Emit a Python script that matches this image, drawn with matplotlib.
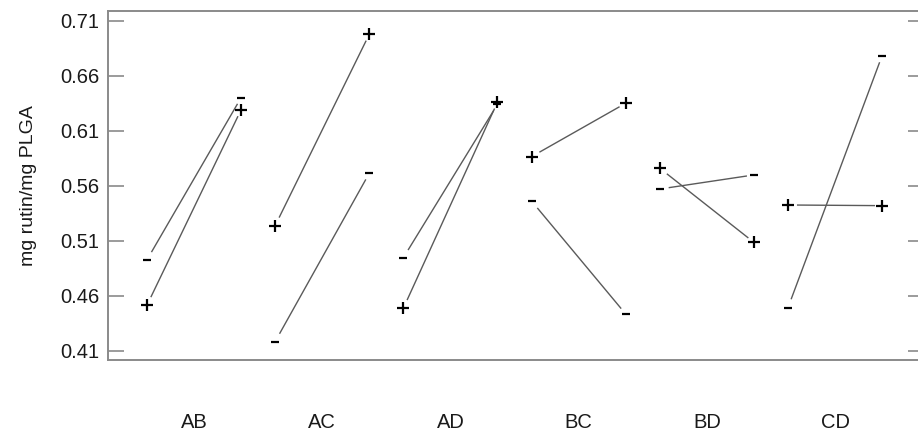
import matplotlib
matplotlib.use("Agg")
import matplotlib.pyplot as plt
import numpy as np

groups = ["AB", "AC", "AD", "BC", "BD", "CD"]
plus_low = [0.4515, 0.5238, 0.4488, 0.5865, 0.5760, 0.5426]
plus_high = [0.6290, 0.6976, 0.6360, 0.6350, 0.5087, 0.5420]
minus_low = [0.4927, 0.4185, 0.4947, 0.5462, 0.5571, 0.4493]
minus_high = [0.6400, 0.5714, 0.6340, 0.4436, 0.5699, 0.6782]
yticks = [0.41, 0.46, 0.51, 0.56, 0.61, 0.66, 0.71]
ylabel = "mg rutin/mg PLGA"

plt.rcParams['font.family'] = ['Liberation Sans', 'DejaVu Sans']

W, H = 918, 430
fig = plt.figure(figsize=(W / 100, H / 100), dpi=100)
left, right, top, bottom = 107.7, 924, 11, 360
ax = fig.add_axes([left / W, (H - bottom) / H, (right - left) / W, (bottom - top) / H])

ax.set_xlim(-0.673, 5.694)
ax.set_ylim(0.4018, 0.7188)

off = 0.367
centers = np.arange(len(groups))
line_color = '#5a5a5a'
spine_color = '#8a8a8a'


def seg(x0, y0, x1, y1, g0=9, g1=7):
    p = ax.transData.transform([(x0, y0), (x1, y1)])
    d = p[1] - p[0]
    u = d / np.hypot(*d)
    q = np.array([p[0] + u * g0, p[1] - u * g1])
    b = ax.transData.inverted().transform(q)
    ax.plot(b[:, 0], b[:, 1], color=line_color, lw=1.0, solid_capstyle='butt')


for i in centers:
    xl, xr = i - off, i + off
    seg(xl, plus_low[i], xr, plus_high[i])
    seg(xl, minus_low[i], xr, minus_high[i])

xs_l = centers - off
xs_r = centers + off
ax.plot(np.r_[xs_l, xs_r], np.r_[plus_low, plus_high], ls='none', marker='+',
        ms=9, mew=1.6, color='black')
ax.plot(np.r_[xs_l, xs_r], np.r_[minus_low, minus_high], ls='none', marker='_',
        ms=6, mew=1.6, color='black')

ax.set_yticks(yticks)
ax.set_yticklabels([f"{v:.2f}" for v in yticks], fontsize=14.5, color='#1a1a1a')
ax.tick_params(axis='y', direction='in', length=11.5, width=1.2, color=spine_color,
               pad=5.8, right=True, labelright=False)
ax.set_xticks(centers)
ax.set_xticklabels(groups, fontsize=14.5, color='#1a1a1a')
ax.tick_params(axis='x', length=0, pad=38)

ax.set_ylabel(ylabel, fontsize=14, color='#1a1a1a', labelpad=17)

for s in ax.spines.values():
    s.set_color(spine_color)
    s.set_linewidth(1.4)

fig.savefig("out.png", dpi=100)
